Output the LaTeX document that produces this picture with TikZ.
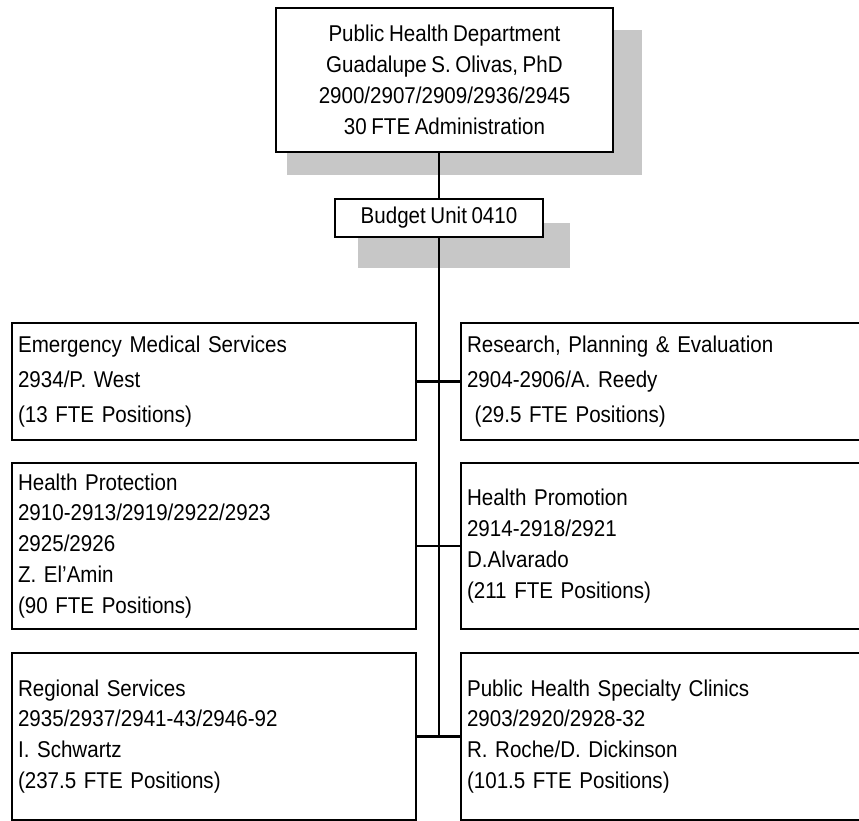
\documentclass[tikz,border=0pt]{standalone}
\usepackage{fontspec}
\setmainfont{Liberation Sans}[FakeStretch=0.9, WordSpace=0.8]

\begin{document}
\begin{tikzpicture}[x=0.02cm, y=-0.02cm,
  box/.style={draw=black, line width=1.3pt, fill=white, font=\fontsize{13pt}{17.6pt}\selectfont},
  unit/.style={box, text width=7.84cm, minimum width=8.08cm, inner xsep=0.12cm, align=left},
  shadowfill/.style={fill=black!22},
  wire/.style={line width=1.3pt}]
\useasboundingbox (0,0) rectangle (859,821);
\clip (0,0) rectangle (859,821);

% grey shadows behind the two top boxes
\fill[shadowfill] (287,30) rectangle (642,175);
\fill[shadowfill] (358,223) rectangle (570,268);

\node [box, align=center, minimum width=6.74cm, minimum height=2.88cm] (phd) at (444.5,80)
  {Public Health Department\\ Guadalupe S. Olivas, PhD\\ 2900/2907/2909/2936/2945\\ 30 FTE Administration};
\node [box, minimum width=4.16cm, minimum height=0.76cm] (bu) at (439,218) {Budget Unit 0410};

% left column
\node [unit, minimum height=2.34cm, font=\fontsize{13pt}{20pt}\selectfont] (ems) at (214,381.5)
  {Emergency Medical Services\\ 2934/P. West\\ (13 FTE Positions)};
\node [unit, minimum height=3.32cm] (hpr) at (214,546)
  {Health Protection\\ 2910-2913/2919/2922/2923\\ 2925/2926\\ Z. El'Amin\\ (90 FTE Positions)};
\node [unit, minimum height=3.34cm] (rs) at (214,736.5)
  {Regional Services\\ 2935/2937/2941-43/2946-92\\ I. Schwartz\\ (237.5 FTE Positions)};

% right column runs off the page edge
\tikzset{unit/.append style={text width=8.6cm, minimum width=8.84cm}}
\node [unit, minimum height=2.34cm, font=\fontsize{13pt}{20pt}\selectfont] (rpe) at (682,381.5)
  {Research, Planning \& Evaluation\\ 2904-2906/A. Reedy\\ \ (29.5 FTE Positions)};
\node [unit, minimum height=3.32cm] (hpm) at (682,546)
  {Health Promotion\\ 2914-2918/2921\\ D.Alvarado\\ (211 FTE Positions)};
\node [unit, minimum height=3.34cm] (phsc) at (682,736.5)
  {Public Health Specialty Clinics\\ 2903/2920/2928-32\\ R. Roche/D. Dickinson\\ (101.5 FTE Positions)};

\draw [wire] (bu.north |- phd.south) -- (bu.north);
\draw [wire] (bu.south) -- (bu.south |- rs.east);
\draw [wire] (ems.east) -- (rpe.west);
\draw [wire] (hpr.east) -- (hpm.west);
\draw [wire] (rs.east) -- (phsc.west);
\end{tikzpicture}
\end{document}
